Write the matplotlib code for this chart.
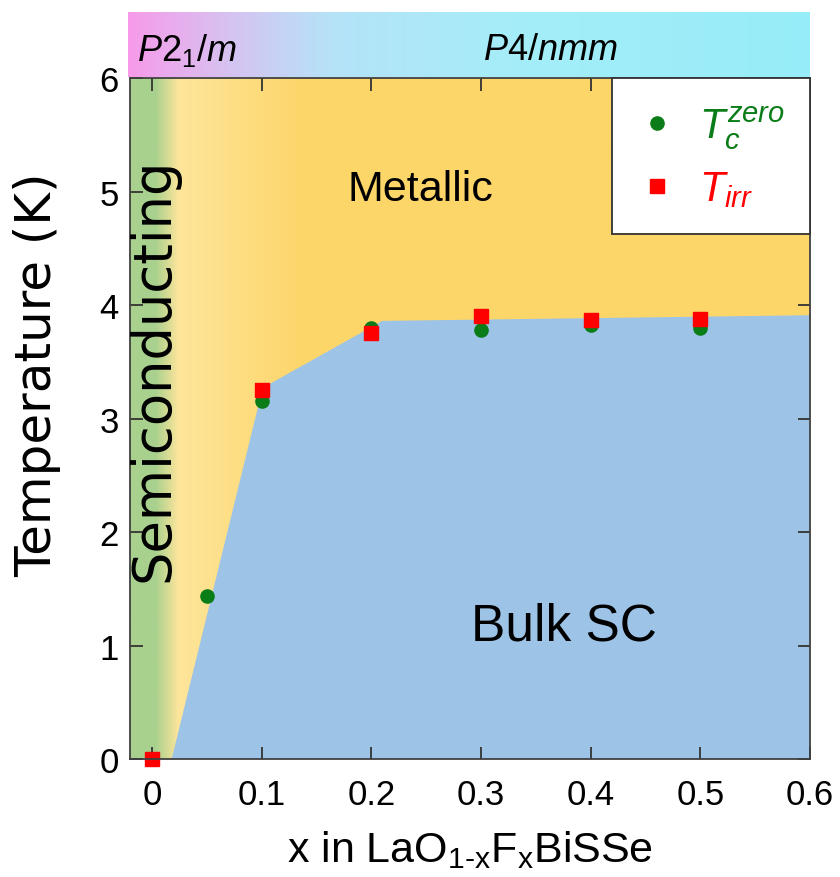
import numpy as np
import matplotlib
matplotlib.use("Agg")
import matplotlib.pyplot as plt
from matplotlib import font_manager
from matplotlib.colors import to_rgb

# ---------------- data ----------------
x_tc = [0.05, 0.1, 0.2, 0.3, 0.4, 0.5]
tc_zero = [1.44, 3.15, 3.80, 3.78, 3.82, 3.80]
x_irr = [0.0, 0.1, 0.2, 0.3, 0.4, 0.5]
t_irr = [0.0, 3.25, 3.75, 3.90, 3.87, 3.88]

# boundary of the bulk superconducting region
sc_x = [0.018, 0.101, 0.21, 0.6]
sc_T = [0.0, 3.27, 3.86, 3.91]

x_ticks = [0, 0.1, 0.2, 0.3, 0.4, 0.5, 0.6]
x_ticklabels = ["0", "0.1", "0.2", "0.3", "0.4", "0.5", "0.6"]
y_ticks = [0, 1, 2, 3, 4, 5, 6]

# ---------------- fonts ----------------
names = {f.name for f in font_manager.fontManager.ttflist}
narrow = "Liberation Sans Narrow" if "Liberation Sans Narrow" in names else "Liberation Sans"
plt.rcParams["font.family"] = ["Liberation Sans", "DejaVu Sans"]
plt.rcParams["mathtext.fontset"] = "custom"
plt.rcParams["mathtext.rm"] = "Liberation Sans"
plt.rcParams["mathtext.it"] = "Liberation Sans:italic"
plt.rcParams["mathtext.bf"] = "Liberation Sans:bold"

W, H = 840, 878
fig = plt.figure(figsize=(W / 100, H / 100), dpi=100)

# ---------------- main axes ----------------
L, R, T, B = 130, 810, 79, 760
ax = fig.add_axes([L / W, 1 - B / H, (R - L) / W, (B - T) / H])
xmin, xmax = -0.02, 0.6
ax.set_xlim(xmin, xmax)
ax.set_ylim(0, 6)

# background gradient (semiconducting -> metallic)
stops = [(-0.02, "#a9d18e"), (0.003, "#a9d18e"), (0.024, "#fee59b"),
         (0.14, "#fdd669"), (0.6, "#fdd669")]
xs = np.linspace(xmin, xmax, 800)
sx = [s[0] for s in stops]
cols = np.array([to_rgb(s[1]) for s in stops])
img = np.stack([np.interp(xs, sx, cols[:, k]) for k in range(3)], axis=-1)[None, :, :]
ax.imshow(img, extent=[xmin, xmax, 0, 6], aspect="auto", interpolation="bilinear", zorder=0)

# bulk SC region
px = list(sc_x) + [sc_x[-1], sc_x[0]]
py = list(sc_T) + [0, 0]
ax.fill(px, py, color="#9dc3e6", lw=0, zorder=1)

ax.plot(x_tc, tc_zero, "o", color="#0a7d18", ms=9.5, ls="none", zorder=3, clip_on=False,
        label=r"$T_c^{zero}$")
ax.plot(x_irr, t_irr, "s", color="#ff0000", ms=10, ls="none", zorder=4, clip_on=False,
        label=r"$T_{irr}$")

ax.set_xticks(x_ticks)
ax.set_xticklabels(x_ticklabels)
ax.set_yticks(y_ticks)
ax.tick_params(direction="in", length=9, width=1.3, color="#333333",
               top=True, right=True, labelsize=25)
ax.tick_params(axis="x", pad=14)
ax.tick_params(axis="y", pad=8)
for lab in ax.get_xticklabels() + ax.get_yticklabels():
    lab.set_fontfamily(narrow)
for sp in ax.spines.values():
    sp.set_color("#404040")
    sp.set_linewidth(1.3)
    sp.set_zorder(5)

ax.set_xlabel(r"x in LaO$_{\mathregular{1\text{-}x}}$F$_{\mathregular{x}}$BiSSe", fontsize=31, labelpad=12)
ax.set_ylabel("Temperature (K)", fontsize=36, family="DejaVu Sans")
ax.yaxis.set_label_coords(-0.101, 0.565)

ax.text(0.245, 5.02, "Metallic", fontsize=31, ha="center", va="center", zorder=6)
ax.text(0.376, 1.17, "Bulk SC", fontsize=37, ha="center", va="center", zorder=6)
ax.text(0.001, 3.44, "Semiconducting", fontsize=38, family="DejaVu Sans", rotation=90,
        ha="center", va="center", zorder=6)

leg = ax.legend(loc="upper right", borderaxespad=0, frameon=True, fancybox=False,
                edgecolor="#333333", framealpha=1, fontsize=30,
                labelcolor=["#0a7d18", "#ff0000"], handletextpad=0.5,
                handlelength=1.0, borderpad=0.6, labelspacing=0.45)
leg.get_frame().set_linewidth(1.3)
leg.set_zorder(7)

# ---------------- top banner ----------------
bx = fig.add_axes([128 / W, 1 - 78 / H, (810 - 128) / W, 65 / H])
bx.set_xlim(0, 1)
bx.set_ylim(0, 1)
bstops = [(0.0, "#f79ae9"), (0.15, "#d6c3f1"), (0.3, "#b5e3f8"), (0.6, "#a3eef9"), (1.0, "#96ecf8")]
bxs = np.linspace(0, 1, 800)
bcols = np.array([to_rgb(s[1]) for s in bstops])
bimg = np.stack([np.interp(bxs, [s[0] for s in bstops], bcols[:, k]) for k in range(3)], axis=-1)[None, :, :]
bx.imshow(bimg, extent=[0, 1, 0, 1], aspect="auto", interpolation="bilinear")
bx.axis("off")
bx.text(0.013, 0.42, r"$P2_1/m$", fontsize=26, ha="left", va="center")
bx.text(0.52, 0.42, r"$P4/nmm$", fontsize=26, ha="left", va="center")

fig.savefig("out.png", dpi=100)
